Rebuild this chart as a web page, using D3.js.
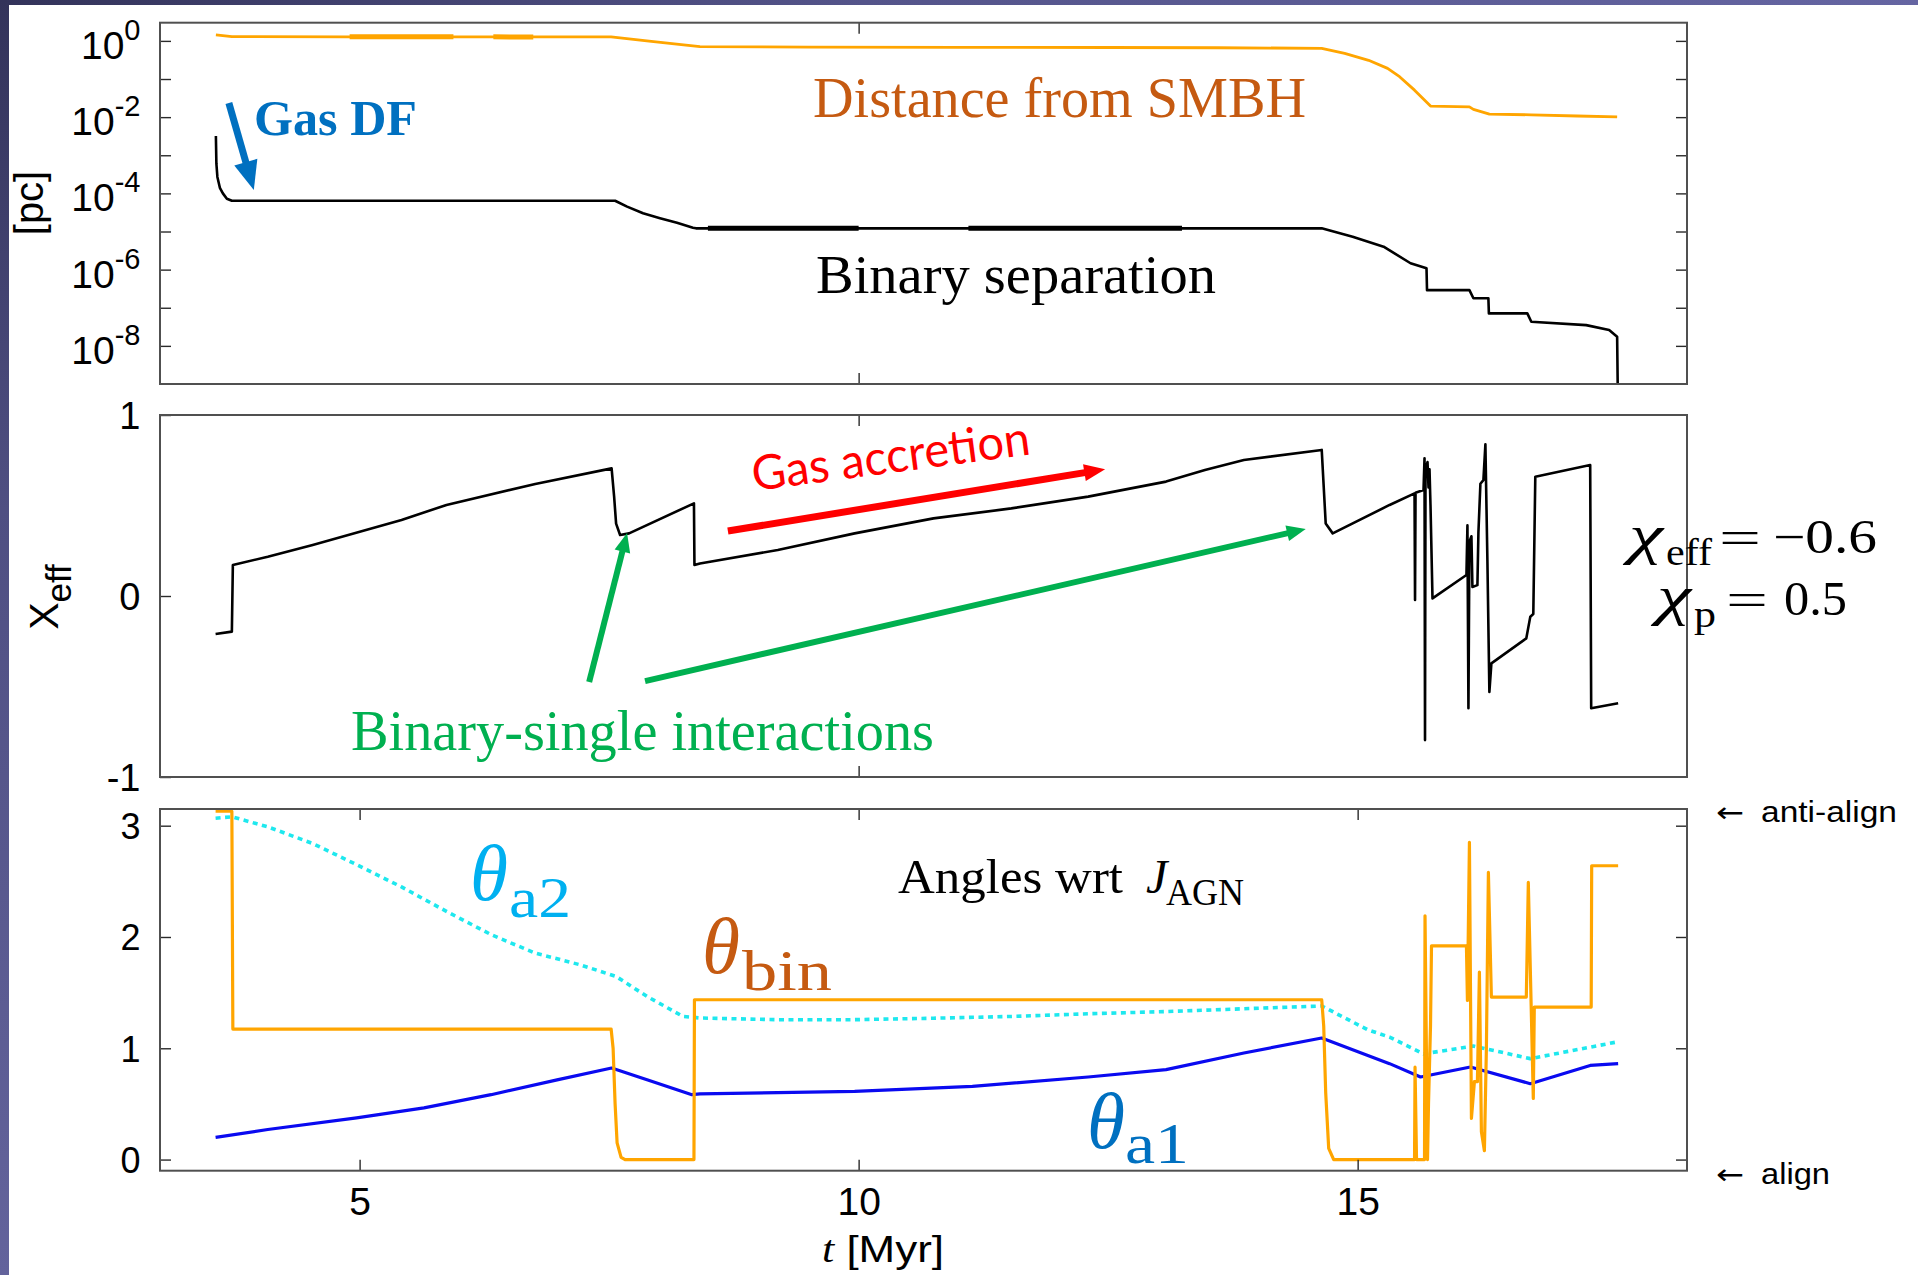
<!DOCTYPE html>
<html>
<head>
<meta charset="utf-8">
<script src="https://cdn.jsdelivr.net/npm/d3@7/dist/d3.min.js"></script>
<style>
  html, body { margin: 0; padding: 0; background: #fff; }
  svg { display: block; }
  text { font-family: "Liberation Sans", Arial, sans-serif; }
</style>
</head>
<body>
<svg id="chart" width="1918" height="1275"></svg>
<script>
// ---------------- data ----------------
// time axis ticks [Myr]
const xTickLabels = [5, 10, 15];
const xTicksUpper = [10];
// separation panel: decades in pc
const pcDecades = [1, 1e-1, 1e-2, 1e-3, 1e-4, 1e-5, 1e-6, 1e-7, 1e-8];
const chiTicks = [-1, 0, 1];
const angleTicks = [0, 1, 2, 3];

// distance from the SMBH [pc]
const distT  = [3.56, 3.72, 4.9, 5.94, 6.74, 7.52, 7.9, 8.2, 8.41, 9.5, 11.0, 12.5, 13.6, 14.64, 14.87, 15.11, 15.30, 15.42, 15.57, 15.73, 16.12, 16.16, 16.32, 16.74, 17.2, 17.60];
const distPc = [1.43, 1.29, 1.28, 1.28, 1.27, 1.27, 0.99, 0.81, 0.705, 0.69, 0.68, 0.67, 0.66, 0.64, 0.47, 0.31, 0.19, 0.115, 0.051, 0.0195, 0.0186, 0.016, 0.012, 0.0115, 0.0107, 0.0102];

// binary separation [pc]
const sepT  = [3.56, 3.565, 3.575, 3.60, 3.63, 3.67, 3.72, 7.56, 7.68, 7.84, 8.01, 8.18, 8.34, 8.37, 14.64, 14.95, 15.26, 15.53, 15.69, 15.695, 16.12, 16.16, 16.31, 16.315, 16.70, 16.74, 17.29, 17.52, 17.60, 17.61];
const sepPc = [3.2e-3, 6e-4, 2.7e-4, 1.4e-4, 1.0e-4, 7.2e-5, 6.4e-5, 6.4e-5, 4.5e-5, 3.0e-5, 2.24e-5, 1.7e-5, 1.26e-5, 1.21e-5, 1.21e-5, 7.3e-6, 4.0e-6, 1.47e-6, 1.08e-6, 2.9e-7, 2.9e-7, 1.77e-7, 1.77e-7, 7.1e-8, 7.1e-8, 4.3e-8, 3.5e-8, 2.6e-8, 1.74e-8, 1e-10];

// stretches where the plotted curves come out heavier
const distHeavy = [[4.9, 5.94], [6.34, 6.74]];
const sepHeavy  = [[8.49, 10.0], [11.1, 13.24]];

// effective spin
const chiT = [3.557, 3.72, 3.73, 4.08, 4.53, 5.42, 5.87, 6.76, 7.525, 7.55, 7.57, 7.61, 7.70, 8.35, 8.355, 8.41, 9.19, 9.96, 10.75, 11.53, 12.30, 13.08, 13.47, 13.86, 14.64, 14.68, 14.75, 15.32, 15.57, 15.575, 15.58, 15.66, 15.67, 15.675, 15.68, 15.70, 15.71, 15.72, 15.73, 15.75, 16.09, 16.10, 16.11, 16.12, 16.14, 16.15, 16.20, 16.21, 16.23, 16.26, 16.28, 16.30, 16.32, 16.34, 16.69, 16.73, 16.76, 16.78, 17.33, 17.34, 17.61];
const chiEff = [-0.21, -0.197, 0.171, 0.217, 0.282, 0.42, 0.503, 0.619, 0.705, 0.55, 0.40, 0.337, 0.346, 0.512, 0.171, 0.18, 0.254, 0.346, 0.429, 0.484, 0.549, 0.632, 0.696, 0.751, 0.807, 0.40, 0.346, 0.503, 0.567, -0.022, 0.57, 0.586, 0.761, -0.796, 0.70, 0.74, 0.60, 0.70, 0.50, -0.013, 0.116, 0.39, -0.62, 0.30, 0.33, 0.05, 0.06, 0.35, 0.62, 0.64, 0.838, 0.2, -0.53, -0.372, -0.234, -0.114, -0.10, 0.659, 0.724, -0.62, -0.593];

// angle of the binary orbit w.r.t. J_AGN [rad]
const binT = [3.557, 3.72, 3.73, 7.52, 7.54, 7.56, 7.58, 7.62, 7.66, 8.35, 8.355, 14.64, 14.66, 14.68, 14.71, 14.76, 15.57, 15.575, 15.59, 15.67, 15.675, 15.70, 15.71, 15.73, 15.74, 16.09, 16.10, 16.12, 16.14, 16.17, 16.20, 16.22, 16.24, 16.27, 16.29, 16.31, 16.34, 16.69, 16.71, 16.76, 16.77, 17.34, 17.345, 17.61];
const thetaBin = [3.13, 3.13, 1.173, 1.173, 1.0, 0.5, 0.15, 0.02, 0.0, 0.0, 1.436, 1.436, 1.2, 0.6, 0.1, 0.0, 0.0, 0.83, 0.0, 0.0, 2.19, 0.0, 0.5, 1.2, 1.92, 1.92, 1.43, 2.85, 0.37, 0.70, 0.70, 1.685, 0.25, 0.08, 1.0, 2.58, 1.46, 1.46, 2.49, 0.55, 1.37, 1.37, 2.64, 2.64];

// spin angle of BH 1 [rad]
const a1T = [3.557, 4.08, 4.97, 5.645, 6.317, 6.99, 7.525, 7.88, 8.33, 8.41, 9.96, 11.14, 12.30, 13.08, 13.86, 14.64, 15.32, 15.63, 16.13, 16.73, 17.33, 17.61];
const thetaA1 = [0.2, 0.27, 0.374, 0.464, 0.583, 0.718, 0.823, 0.718, 0.583, 0.59, 0.613, 0.658, 0.742, 0.808, 0.958, 1.092, 0.862, 0.742, 0.832, 0.682, 0.846, 0.862];

// spin angle of BH 2 [rad]
const a2T = [3.557, 3.72, 4.08, 4.53, 4.97, 5.42, 5.87, 6.32, 6.76, 7.21, 7.57, 7.88, 8.24, 8.41, 9.19, 9.96, 10.75, 11.53, 12.30, 13.08, 14.64, 15.10, 15.32, 15.66, 16.16, 16.73, 17.33, 17.60];
const thetaA2 = [3.067, 3.08, 2.99, 2.84, 2.65, 2.45, 2.23, 2.02, 1.855, 1.75, 1.645, 1.466, 1.286, 1.272, 1.257, 1.257, 1.27, 1.286, 1.31, 1.33, 1.38, 1.167, 1.10, 0.95, 1.02, 0.907, 1.01, 1.057];

// annotation arrows, in data coordinates [t, value]
const gasDfArrow   = [[3.69, 0.0235], [3.94, 1.23e-4]];
const accretionArrow = [[8.69, 0.359], [12.47, 0.70]];
const interactionArrows = [[[7.30, -0.475], [7.68, 0.348]], [[7.86, -0.47], [14.48, 0.37]]];

// ---------------- layout ----------------
const svg = d3.select('#chart');
const defs = svg.append('defs');
const X0 = 160, X1 = 1687;
const panels = {
  sep: { top: 22.7, bottom: 384 },
  chi: { top: 415, bottom: 777 },
  ang: { top: 809, bottom: 1170.7 }
};

const x = d3.scaleLinear().domain([3, 18.3]).range([X0, X1]);
const yPc = d3.scaleLog().domain([1e-9, 3]).range([panels.sep.bottom, panels.sep.top]);
const yChi = d3.scaleLinear().domain([-1, 1]).range([panels.chi.bottom, panels.chi.top]);
const yAng = d3.scaleLinear().domain([-0.1, 3.15]).range([panels.ang.bottom, panels.ang.top]);

const SERIF = '"Liberation Serif", "Times New Roman", serif';
const SANS = '"Liberation Sans", Arial, sans-serif';

// slide edge strips
const gTop = defs.append('linearGradient').attr('id', 'edgeTop').attr('x1', 0).attr('x2', 1).attr('y1', 0).attr('y2', 0);
gTop.append('stop').attr('offset', 0).attr('stop-color', '#33335a');
gTop.append('stop').attr('offset', 0.45).attr('stop-color', '#54548a');
gTop.append('stop').attr('offset', 1).attr('stop-color', '#6565a2');
const gLeft = defs.append('linearGradient').attr('id', 'edgeLeft').attr('x1', 0).attr('x2', 0).attr('y1', 0).attr('y2', 1);
gLeft.append('stop').attr('offset', 0).attr('stop-color', '#33335a');
gLeft.append('stop').attr('offset', 0.4).attr('stop-color', '#4f4f82');
gLeft.append('stop').attr('offset', 1).attr('stop-color', '#63639c');
svg.append('rect').attr('x', 0).attr('y', 0).attr('width', 1918).attr('height', 5).attr('fill', 'url(#edgeTop)');
svg.append('rect').attr('x', 0).attr('y', 0).attr('width', 9).attr('height', 1275).attr('fill', 'url(#edgeLeft)');

// clip paths per panel
Object.entries(panels).forEach(([k, p]) => {
  defs.append('clipPath').attr('id', 'clip-' + k)
    .append('rect').attr('x', X0).attr('y', p.top).attr('width', X1 - X0).attr('height', p.bottom - p.top);
});

function series(panelKey, ts, vs, y, color, width, dash) {
  const pts = ts.map((t, i) => [t, vs[i]]);
  const line = d3.line().x(d => x(d[0])).y(d => y(d[1]));
  return svg.append('path')
    .datum(pts)
    .attr('clip-path', `url(#clip-${panelKey})`)
    .attr('d', line)
    .attr('fill', 'none')
    .attr('stroke', color)
    .attr('stroke-width', width)
    .attr('stroke-linejoin', 'round')
    .attr('stroke-dasharray', dash || null);
}

// heavier stretches drawn again through narrow clip windows
function heavy(name, panelKey, spans, ts, vs, y, color, width) {
  const p = panels[panelKey];
  spans.forEach((s, i) => {
    const id = `heavy-${name}-${i}`;
    defs.append('clipPath').attr('id', id)
      .append('rect').attr('x', x(s[0])).attr('y', p.top).attr('width', x(s[1]) - x(s[0])).attr('height', p.bottom - p.top);
    const pts = ts.map((t, j) => [t, vs[j]]);
    svg.append('path').datum(pts)
      .attr('clip-path', `url(#${id})`)
      .attr('d', d3.line().x(d => x(d[0])).y(d => y(d[1])))
      .attr('fill', 'none').attr('stroke', color).attr('stroke-width', width);
  });
}

function styleAxis(g, size) {
  g.select('.domain').remove();
  g.attr('color', '#2a2a2a').attr('font-family', null).attr('font-size', null);
  g.selectAll('.tick line').attr('stroke-width', 1.4);
  g.selectAll('.tick text').attr('fill', '#000').style('font-family', SANS).style('font-size', size + 'px');
}

function frame(p) {
  svg.append('rect').attr('x', X0).attr('y', p.top).attr('width', X1 - X0).attr('height', p.bottom - p.top)
    .attr('fill', 'none').attr('stroke', '#505050').attr('stroke-width', 2);
}

function xTicks(p, vals, labelled) {
  const top = svg.append('g').attr('transform', `translate(0,${p.top})`)
    .call(d3.axisTop(x).tickValues(vals).tickSize(-11).tickFormat(''));
  styleAxis(top, 39);
  const bot = svg.append('g').attr('transform', `translate(0,${p.bottom})`)
    .call(d3.axisBottom(x).tickValues(vals).tickSize(-11).tickPadding(17).tickFormat(labelled ? d3.format('d') : ''));
  styleAxis(bot, 39);
}

// ---------------- panel 1: distances ----------------
series('sep', distT, distPc, yPc, '#ffa500', 2.8);
heavy('dist', 'sep', distHeavy, distT, distPc, yPc, '#ffa500', 5);
series('sep', sepT, sepPc, yPc, '#000', 2.6);
heavy('bin', 'sep', sepHeavy, sepT, sepPc, yPc, '#000', 5);

const pcLeft = svg.append('g').attr('transform', `translate(${X0},0)`)
  .call(d3.axisLeft(yPc).tickValues(pcDecades).tickSize(-11).tickPadding(19.5)
    .tickFormat(d => (Math.round(Math.log10(d)) % 2 === 0 ? '10' : '')));
styleAxis(pcLeft, 39);
pcLeft.selectAll('.tick text').attr('dy', '0.45em').each(function (d) {
  const e = Math.round(Math.log10(d));
  if (e % 2 === 0) {
    d3.select(this).append('tspan').attr('dy', -19).style('font-size', '29px').text(e === 0 ? '0' : '-' + (-e));
  }
});
const pcRight = svg.append('g').attr('transform', `translate(${X1},0)`)
  .call(d3.axisRight(yPc).tickValues(pcDecades).tickSize(-11).tickFormat(''));
styleAxis(pcRight, 39);
xTicks(panels.sep, xTicksUpper, false);
frame(panels.sep);

// ---------------- panel 2: effective spin ----------------
series('chi', chiT, chiEff, yChi, '#000', 2.6);
const chiLeft = svg.append('g').attr('transform', `translate(${X0},0)`)
  .call(d3.axisLeft(yChi).tickValues(chiTicks).tickSize(-11).tickPadding(19.5)
    .tickFormat(d => (d < 0 ? '-' + Math.abs(d) : String(d))));
styleAxis(chiLeft, 38);
chiLeft.selectAll('.tick text').attr('dy', '0.36em');
xTicks(panels.chi, xTicksUpper, false);
frame(panels.chi);

// ---------------- panel 3: angles ----------------
series('ang', a2T, thetaA2, yAng, '#1ee8ee', 3.6, '5,4.5');
series('ang', a1T, thetaA1, yAng, '#0a0af0', 3.2);
series('ang', binT, thetaBin, yAng, '#ffa500', 3.2);
const angLeft = svg.append('g').attr('transform', `translate(${X0},0)`)
  .call(d3.axisLeft(yAng).tickValues(angleTicks).tickSize(-11).tickPadding(19.5).tickFormat(d3.format('d')));
styleAxis(angLeft, 36);
angLeft.selectAll('.tick text').attr('dy', '0.36em');
const angRight = svg.append('g').attr('transform', `translate(${X1},0)`)
  .call(d3.axisRight(yAng).tickValues(angleTicks).tickSize(-11).tickFormat(''));
styleAxis(angRight, 36);
xTicks(panels.ang, xTickLabels, true);
frame(panels.ang);

// ---------------- axis titles ----------------
svg.append('text').attr('transform', 'translate(43,203) rotate(-90)')
  .attr('text-anchor', 'middle').style('font-size', '40px').text('[pc]');

const chiTitle = svg.append('text').attr('transform', 'translate(58,597) rotate(-90)')
  .attr('text-anchor', 'middle').style('font-size', '41px');
chiTitle.append('tspan').text('X');
chiTitle.append('tspan').attr('dy', 13).style('font-size', '35px').text('eff');

const tTitle = svg.append('text').attr('x', 822).attr('y', 1262)
  .attr('textLength', 122).attr('lengthAdjust', 'spacingAndGlyphs').style('font-size', '37px');
tTitle.append('tspan').style('font-family', SERIF).style('font-style', 'italic').text('t');
tTitle.append('tspan').text(' [Myr]');

// ---------------- arrows ----------------
function arrow(from, to, y, color, width, headLen, headW) {
  const x1 = x(from[0]), y1 = y(from[1]), x2 = x(to[0]), y2 = y(to[1]);
  const dx = x2 - x1, dy = y2 - y1, len = Math.hypot(dx, dy);
  const ux = dx / len, uy = dy / len;
  const bx = x2 - ux * headLen, by = y2 - uy * headLen;
  svg.append('line').attr('x1', x1).attr('y1', y1).attr('x2', bx + ux * 2).attr('y2', by + uy * 2)
    .attr('stroke', color).attr('stroke-width', width);
  const px = -uy * headW / 2, py = ux * headW / 2;
  svg.append('path')
    .attr('d', `M${x2},${y2}L${bx + px},${by + py}L${bx - px},${by - py}Z`)
    .attr('fill', color);
}
arrow(gasDfArrow[0], gasDfArrow[1], yPc, '#0070c0', 7, 29, 24);
arrow(accretionArrow[0], accretionArrow[1], yChi, '#ff0000', 7, 21, 17);
interactionArrows.forEach(a => arrow(a[0], a[1], yChi, '#00b050', 6, 19, 16));

// ---------------- labels ----------------
function label(txt, xPos, yPos, size, color, opts = {}) {
  const t = svg.append('text').attr('x', xPos).attr('y', yPos)
    .style('font-family', opts.family || SERIF).style('font-size', size + 'px')
    .attr('fill', color).text(txt);
  if (opts.weight) t.style('font-weight', opts.weight);
  if (opts.length) t.attr('textLength', opts.length).attr('lengthAdjust', 'spacingAndGlyphs');
  if (opts.transform) t.attr('transform', opts.transform);
  return t;
}
label('Gas DF', 254, 135, 50, '#0070c0', { weight: 'bold', length: 163 });
label('Distance from SMBH', 813, 117, 56, '#c55a11', { length: 493 });
label('Binary separation', 816, 293, 55, '#000', { length: 400 });
label('Binary-single interactions', 351, 750, 56, '#00b050', { length: 583 });
label('Gas accretion', 0, 0, 48, '#ff0000', { family: 'Lato, "Open Sans", sans-serif', length: 280, transform: 'translate(754,491) rotate(-7.5)' });

// spin summary
function eqPart(t, txt, xPos, yPos, size, len, italic) {
  const s = t.append('tspan').attr('x', xPos).attr('y', yPos).style('font-size', size + 'px').text(txt);
  if (len) s.attr('textLength', len).attr('lengthAdjust', 'spacingAndGlyphs');
  if (italic) s.style('font-style', 'italic');
  return s;
}
const chiA = svg.append('text').style('font-family', SERIF).attr('fill', '#000');
eqPart(chiA, 'χ', 1629, 553, 54, 34, true);
eqPart(chiA, 'eff', 1666, 565, 38, 46);
eqPart(chiA, '=', 1719, 553, 47, 42);
eqPart(chiA, '−0.6', 1773, 553, 48, 104);
const chiB = svg.append('text').style('font-family', SERIF).attr('fill', '#000');
eqPart(chiB, 'χ', 1657, 614, 54, 34, true);
eqPart(chiB, 'p', 1694, 627, 38, 22);
eqPart(chiB, '=', 1726, 615, 47, 42);
eqPart(chiB, '0.5', 1784, 615, 48, 63);

// angle panel labels
const ang = svg.append('text').style('font-family', SERIF).style('font-size', '48px').attr('fill', '#000');
ang.append('tspan').attr('x', 898).attr('y', 893).attr('textLength', 225).attr('lengthAdjust', 'spacingAndGlyphs').text('Angles wrt');
ang.append('tspan').attr('x', 1146).attr('y', 893).style('font-style', 'italic').text('J');
ang.append('tspan').attr('x', 1166).attr('y', 905).style('font-size', '37px').attr('textLength', 78).attr('lengthAdjust', 'spacingAndGlyphs').text('AGN');

function thetaLabel(sub, xT, yT, xS, yS, subLen, color) {
  const t = svg.append('text').style('font-family', SERIF).attr('fill', color);
  t.append('tspan').attr('x', xT).attr('y', yT).style('font-size', '80px').style('font-style', 'italic')
    .attr('textLength', 38).attr('lengthAdjust', 'spacingAndGlyphs').text('θ');
  t.append('tspan').attr('x', xS).attr('y', yS).style('font-size', '58px')
    .attr('textLength', subLen).attr('lengthAdjust', 'spacingAndGlyphs').text(sub);
}
thetaLabel('a2', 470, 900, 509, 917, 62, '#00b0f0');
thetaLabel('bin', 702, 973, 742, 990, 90, '#c55a11');
thetaLabel('a1', 1087, 1148, 1125, 1163, 64, '#0070c0');

// alignment markers beside the angle axis
function sideNote(txt, yPos, len) {
  const t = svg.append('text').attr('y', yPos).style('font-size', '30px').attr('fill', '#000');
  t.append('tspan').attr('x', 1716).style('font-family', '"DejaVu Sans", sans-serif').style('font-size', '28px')
    .attr('textLength', 28).attr('lengthAdjust', 'spacingAndGlyphs').text('←');
  t.append('tspan').attr('x', 1761).style('font-family', SANS).attr('textLength', len).attr('lengthAdjust', 'spacingAndGlyphs').text(txt);
}
sideNote('anti-align', 822, 136);
sideNote('align', 1184, 69);
</script>
</body>
</html>
